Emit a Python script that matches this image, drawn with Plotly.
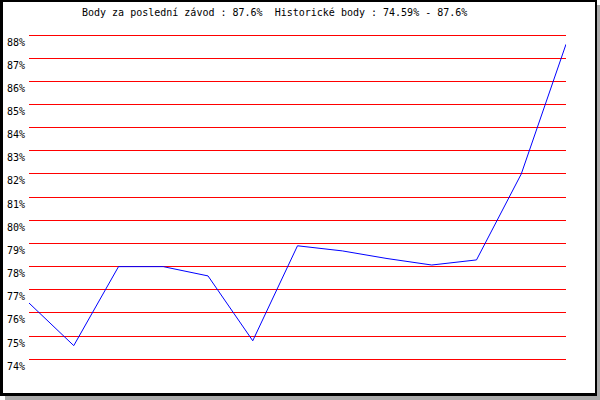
import plotly.graph_objects as go

# race index and score (%)
races = list(range(13))
scores = [76.43, 74.59, 78.0, 78.0, 77.6, 74.8, 78.9, 78.68, 78.35, 78.07, 78.29, 82.0, 87.6]
tick_values = list(range(74, 89))
title_text = "Body za poslední závod : 87.6%  Historické body : 74.59% - 87.6%"

W, H = 600, 400
L, R, T, B = 29, 34, 30, 30
PW, PH = W - L - R, H - T - B


def px_x(px):
    return (px - L) / PW


def px_y(py):
    return (H - B - py) / PH


fig = go.Figure()

fig.add_trace(
    go.Scatter(
        x=races,
        y=scores,
        mode='lines',
        line=dict(color='#0000ff', width=1),
        hoverinfo='skip',
        showlegend=False
    )
)

# frame with drop shadow
fig.add_shape(type='rect', xref='paper', yref='paper', layer='below',
              x0=px_x(5), x1=px_x(600), y0=px_y(5), y1=px_y(400),
              fillcolor='#aaaaaa', line_width=0)
fig.add_shape(type='rect', xref='paper', yref='paper', layer='below',
              x0=px_x(0), x1=px_x(597), y0=px_y(0), y1=px_y(396),
              fillcolor='#000000', line_width=0)
fig.add_shape(type='rect', xref='paper', yref='paper', layer='below',
              x0=px_x(3), x1=px_x(595), y0=px_y(2), y1=px_y(393),
              fillcolor='#ffffff', line_width=0)

fig.add_annotation(
    text=title_text, showarrow=False,
    xref='paper', yref='paper', x=px_x(274.5), y=px_y(13),
    xanchor='center', yanchor='middle',
    font=dict(family='DejaVu Sans Mono', size=10, color='black')
)

fig.update_layout(
    width=W, height=H,
    margin=dict(l=L, r=R, t=T, b=B, pad=0, autoexpand=False),
    paper_bgcolor='white',
    plot_bgcolor='rgba(0,0,0,0)',
    font=dict(family='DejaVu Sans Mono', size=10, color='black'),
    xaxis=dict(range=[0, 12], showgrid=False, zeroline=False,
               showticklabels=False, ticks='', showline=False,
               automargin=False),
    yaxis=dict(range=[74 - 10.7 / 23.16, 88 + 5 / 23.16],
               tickmode='array', tickvals=tick_values,
               ticktext=[f"{v}%" for v in tick_values],
               showgrid=True, gridcolor='#ff0000', gridwidth=1,
               zeroline=False, showline=False, ticks='',
               automargin=False,
               ticklabelshift=7, ticklabelstandoff=3)
)

# the page's default body margin would push the figure 8px in
fig.write_html("out.html", config={'displayModeBar': False},
               post_script="document.body.style.margin='0';")
